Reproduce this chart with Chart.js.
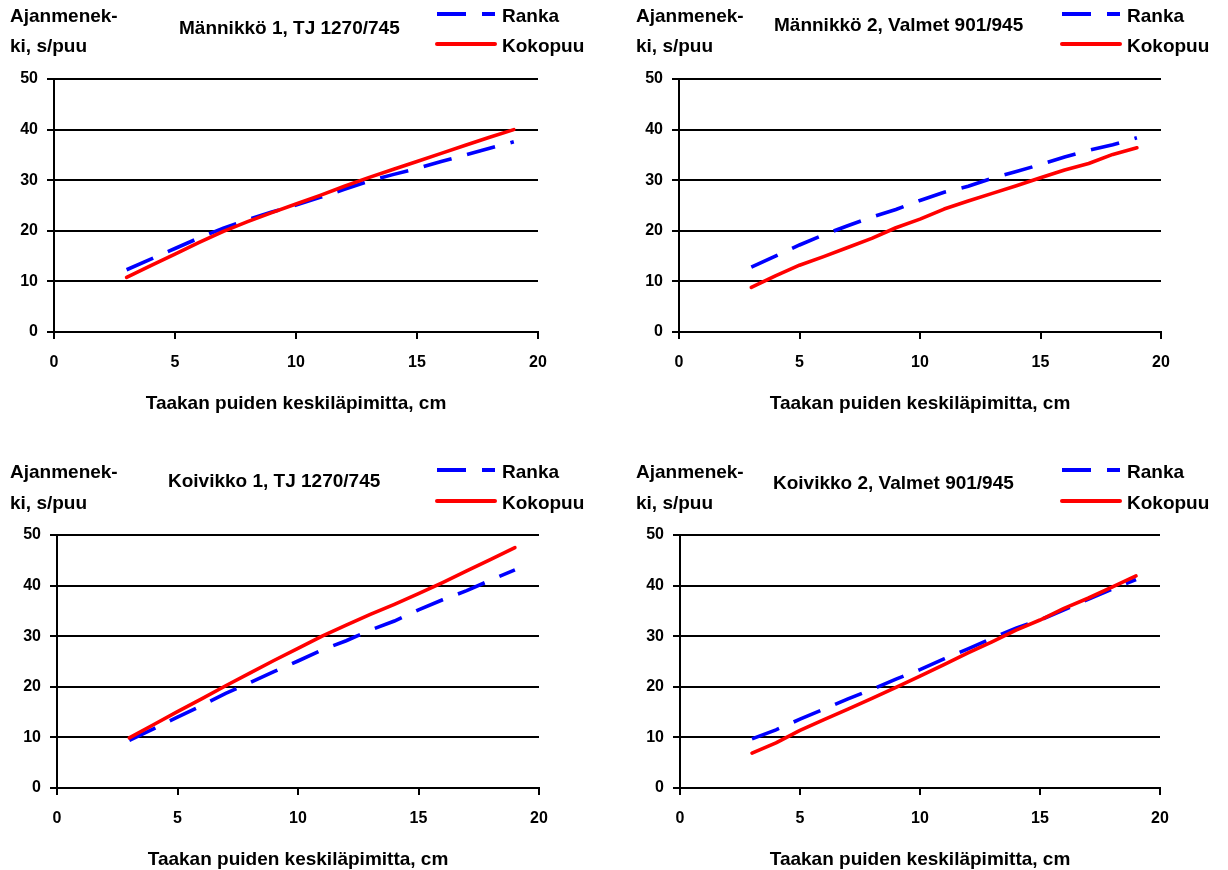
<!DOCTYPE html>
<html>
<head>
<meta charset="utf-8">
<script src="https://cdn.jsdelivr.net/npm/chart.js@4.4.0/dist/chart.umd.min.js"></script>
<style>
  html, body { margin: 0; padding: 0; background: #fff; overflow: hidden; }
  #page { position: relative; width: 1228px; height: 870px; background: #fff;
          font-family: "Liberation Sans", Arial, sans-serif; font-weight: bold; color: #000; }
  .txt { position: absolute; white-space: nowrap; font-size: 19px; line-height: 19px; }
  canvas { position: absolute; }
</style>
</head>
<body>
<div id="page"></div>
<script>
// Tree mean diameter of the load (cm)
const diameter = [3, 4, 5, 6, 7, 8, 9, 10, 11, 12, 13, 14, 15, 16, 17, 18, 19];

// Time consumption, s/tree
const rankaM1    = [12.3, 14.4, 16.5, 18.6, 20.5, 22.2, 23.7, 25.1, 26.6, 28.2, 29.8, 31.1, 32.3, 33.7, 35.0, 36.3, 37.6];
const kokopuuM1  = [10.8, 13.1, 15.4, 17.7, 19.9, 21.8, 23.6, 25.3, 27.0, 28.8, 30.5, 32.1, 33.7, 35.3, 36.9, 38.5, 40.0];
const rankaM2    = [12.8, 15.0, 17.2, 19.2, 21.0, 22.7, 24.2, 26.0, 27.6, 28.8, 30.4, 31.7, 33.1, 34.6, 35.9, 37.0, 38.4];
const kokopuuM2  = [8.8, 11.1, 13.2, 14.9, 16.7, 18.5, 20.6, 22.3, 24.3, 25.9, 27.4, 28.9, 30.5, 32.0, 33.3, 35.1, 36.4];
const rankaK1    = [9.4, 11.7, 14.0, 16.3, 18.7, 20.8, 23.0, 25.1, 27.3, 29.1, 31.2, 33.0, 35.2, 37.2, 39.0, 41.1, 43.1];
const kokopuuK1  = [9.9, 12.5, 15.1, 17.6, 20.2, 22.7, 25.2, 27.6, 30.0, 32.2, 34.3, 36.3, 38.4, 40.6, 42.9, 45.2, 47.5];
const rankaK2    = [9.7, 11.5, 13.6, 15.6, 17.6, 19.5, 21.5, 23.4, 25.5, 27.5, 29.6, 31.6, 33.2, 35.2, 37.3, 39.3, 41.2];
const kokopuuK2  = [6.9, 8.9, 11.4, 13.5, 15.6, 17.7, 19.9, 22.1, 24.4, 26.7, 28.9, 31.2, 33.2, 35.5, 37.5, 39.7, 41.9];

// Axis ticks and labels
const xTickValues = [0, 5, 10, 15, 20];
const yTickValues = [0, 10, 20, 30, 40, 50];
const seriesNames = ['Ranka', 'Kokopuu'];
const panelTitles = ['Männikkö 1, TJ 1270/745', 'Männikkö 2, Valmet 901/945',
                     'Koivikko 1, TJ 1270/745', 'Koivikko 2, Valmet 901/945'];
const yAxisTitle = ['Ajanmenek-', 'ki, s/puu'];
const xAxisTitle = 'Taakan puiden keskiläpimitta, cm';

const BLUE = '#0000ff';
const RED = '#ff0000';
const BASE = 16; // baseline offset inside a 19px text box

// Placement of the four panels on the page
const panels = [
  { title: panelTitles[0], ranka: rankaM1, kokopuu: kokopuuM1,
    canvas: { x: 0, y: 0, w: 614, h: 435 }, area: { l: 54, r: 538, t: 79, b: 332 },
    yLab: { x: 10, b1: 22, b2: 52 }, head: { x: 179, b: 34 },
    legend: { x: 437, y1: 14, y2: 44, tx: 502, tb1: 22, tb2: 52 }, xTitleB: 409 },
  { title: panelTitles[1], ranka: rankaM2, kokopuu: kokopuuM2,
    canvas: { x: 614, y: 0, w: 614, h: 435 }, area: { l: 679, r: 1161, t: 79, b: 332 },
    yLab: { x: 636, b1: 22, b2: 52 }, head: { x: 774, b: 31 },
    legend: { x: 1062, y1: 14, y2: 44, tx: 1127, tb1: 22, tb2: 52 }, xTitleB: 409 },
  { title: panelTitles[2], ranka: rankaK1, kokopuu: kokopuuK1,
    canvas: { x: 0, y: 435, w: 614, h: 435 }, area: { l: 57, r: 539, t: 535, b: 788 },
    yLab: { x: 10, b1: 478, b2: 509 }, head: { x: 168, b: 487 },
    legend: { x: 437, y1: 470, y2: 501, tx: 502, tb1: 478, tb2: 509 }, xTitleB: 865 },
  { title: panelTitles[3], ranka: rankaK2, kokopuu: kokopuuK2,
    canvas: { x: 614, y: 435, w: 614, h: 435 }, area: { l: 680, r: 1160, t: 535, b: 788 },
    yLab: { x: 636, b1: 478, b2: 509 }, head: { x: 773, b: 489 },
    legend: { x: 1062, y1: 470, y2: 501, tx: 1127, tb1: 478, tb2: 509 }, xTitleB: 865 }
];

const page = document.getElementById('page');

function addText(str, left, baseline, center) {
  const d = document.createElement('div');
  d.className = 'txt';
  d.textContent = str;
  d.style.top = (baseline - BASE) + 'px';
  d.style.left = left + 'px';
  if (center) d.style.transform = 'translateX(-50%)';
  page.appendChild(d);
}

// Legend samples drawn with each dataset's own stroke style
const legendSamples = {
  id: 'legendSamples',
  afterDraw(chart, args, opts) {
    const ctx = chart.ctx;
    const ys = [opts.y1, opts.y2];
    chart.data.datasets.forEach((ds, i) => {
      ctx.save();
      ctx.strokeStyle = ds.borderColor;
      ctx.lineWidth = 4;
      ctx.lineCap = ds.borderCapStyle;
      ctx.setLineDash(ds.borderDash || []);
      ctx.beginPath();
      ctx.moveTo(opts.x, ys[i]);
      ctx.lineTo(opts.x + 58, ys[i]);
      ctx.stroke();
      ctx.restore();
    });
  }
};

panels.forEach(p => {
  const c = document.createElement('canvas');
  const cw = p.canvas.w, ch = Math.min(p.canvas.h, 870 - p.canvas.y);
  c.width = cw; c.height = ch;
  c.style.left = p.canvas.x + 'px';
  c.style.top = p.canvas.y + 'px';
  c.style.width = cw + 'px';
  c.style.height = ch + 'px';
  page.appendChild(c);

  const areaL = p.area.l - p.canvas.x;
  const areaR = p.area.r - p.canvas.x;
  const areaT = p.area.t - p.canvas.y;
  const areaB = p.area.b - p.canvas.y;

  const tickFont = { family: '"Liberation Sans", Arial, sans-serif', size: 16, weight: 'bold' };

  new Chart(c, {
    type: 'line',
    data: {
      datasets: [
        { label: seriesNames[0], data: diameter.map((x, i) => ({ x, y: p.ranka[i] })),
          borderColor: BLUE, borderWidth: 3.6, borderDash: [29, 16], borderCapStyle: 'butt',
          pointRadius: 0, tension: 0, fill: false, order: 1 },
        { label: seriesNames[1], data: diameter.map((x, i) => ({ x, y: p.kokopuu[i] })),
          borderColor: RED, borderWidth: 3.6, borderCapStyle: 'round', borderJoinStyle: 'round',
          pointRadius: 0, tension: 0, fill: false, order: 0 }
      ]
    },
    options: {
      responsive: false,
      animation: false,
      devicePixelRatio: 1,
      layout: { padding: { left: 0, top: areaT, right: cw - areaR, bottom: 0 } },
      plugins: {
        legend: { display: false },
        tooltip: { enabled: false },
        legendSamples: { x: p.legend.x - p.canvas.x, y1: p.legend.y1 - p.canvas.y, y2: p.legend.y2 - p.canvas.y }
      },
      scales: {
        x: {
          type: 'linear', min: 0, max: 20,
          afterBuildTicks: s => { s.ticks = xTickValues.map(v => ({ value: v })); },
          afterFit: s => { s.height = ch - areaB; },
          ticks: { color: '#000', font: tickFont, padding: 14, maxRotation: 0, autoSkip: false },
          grid: { drawOnChartArea: false, drawTicks: true, tickLength: 7, color: '#000', lineWidth: 2 },
          border: { display: true, color: '#000', width: 2 }
        },
        y: {
          type: 'linear', min: 0, max: 50,
          afterBuildTicks: s => { s.ticks = yTickValues.map(v => ({ value: v })); },
          afterFit: s => { s.width = areaL; },
          ticks: { color: '#000', font: tickFont, padding: 9, autoSkip: false },
          grid: { drawOnChartArea: true, drawTicks: true, tickLength: 7, color: '#000', lineWidth: 2 },
          border: { display: true, color: '#000', width: 2 }
        }
      }
    },
    plugins: [legendSamples]
  });

  addText(yAxisTitle[0], p.yLab.x, p.yLab.b1);
  addText(yAxisTitle[1], p.yLab.x, p.yLab.b2);
  addText(p.title, p.head.x, p.head.b);
  addText(seriesNames[0], p.legend.tx, p.legend.tb1);
  addText(seriesNames[1], p.legend.tx, p.legend.tb2);
  addText(xAxisTitle, (p.area.l + p.area.r) / 2, p.xTitleB, true);
});
</script>
</body>
</html>
